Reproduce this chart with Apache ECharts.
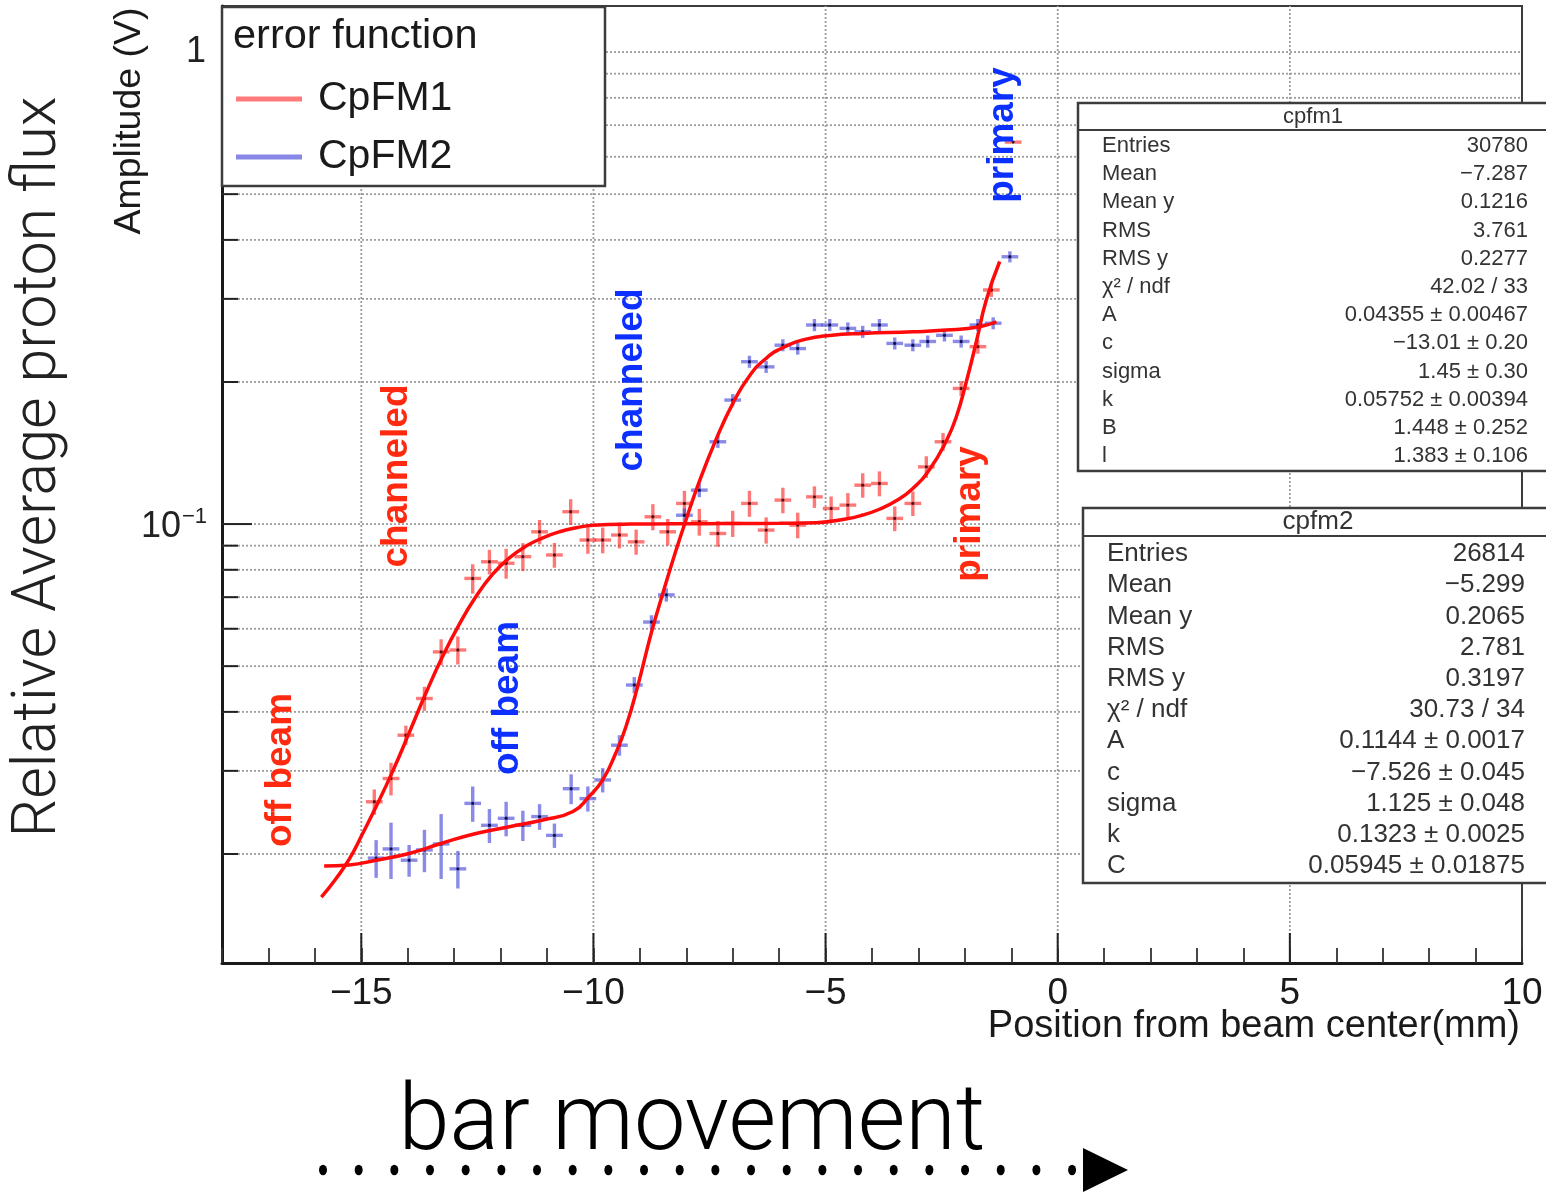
<!DOCTYPE html>
<html>
<head>
<meta charset="utf-8">
<script src="https://cdn.jsdelivr.net/npm/echarts@6/dist/echarts.min.js"></script>
<style>
  html, body { margin: 0; padding: 0; background: #ffffff; }
  #chart { width: 1546px; height: 1193px; }
</style>
</head>
<body>
<div id="chart"></div>
<script>
// ---- axis ranges and tick values ----
const X_MIN = -18, X_MAX = 10;
const Y_MIN = 0.01175, Y_MAX = 1.252;
const xMajorTicks = [-15, -10, -5, 0, 5];
const yGridValues = [0.02, 0.03, 0.04, 0.05, 0.06, 0.07, 0.08, 0.09, 0.1,
                     0.2, 0.3, 0.4, 0.5, 0.6, 0.7, 0.8, 0.9, 1];
const yMajorTicks = [0.1, 1];
const yLabelValues = [1, 0.1];
const yLabelBase = ['1', '10'];
const yLabelExp = ['', '\u22121'];

// ---- CpFM1 measurements (position mm, amplitude V, error V) ----
const cpfm1X = [-14.72, -14.36, -14.04, -13.64, -13.28, -12.92, -12.60, -12.24, -11.88, -11.52,
                -11.16, -10.84, -10.49, -10.12, -9.80, -9.44, -9.08, -8.72, -8.40, -8.04,
                -7.72, -7.32, -7.00, -6.64, -6.28, -5.92, -5.60, -5.24, -4.88, -4.52,
                -4.20, -3.84, -3.51, -3.12, -2.83, -2.47, -2.08, -1.72, -1.43, -0.96];
const cpfm1Y = [0.0258, 0.0289, 0.0357, 0.0427, 0.0536, 0.0541, 0.0767, 0.0832, 0.0826, 0.0853,
                0.0963, 0.0860, 0.1062, 0.0925, 0.0925, 0.0948, 0.0917, 0.1036, 0.0963, 0.1106,
                0.1011, 0.0955, 0.1003, 0.1106, 0.0971, 0.1124, 0.0995, 0.1142, 0.1079, 0.1097,
                0.1209, 0.1219, 0.1028, 0.1106, 0.1322, 0.1494, 0.1938, 0.2376, 0.3133, 0.6446];
const cpfm1Err = [0.0016, 0.0023, 0.0017, 0.0025, 0.0034, 0.0037, 0.0055, 0.0050, 0.0060, 0.0058,
                  0.0057, 0.0052, 0.0067, 0.0060, 0.0058, 0.0060, 0.0056, 0.0066, 0.0062, 0.0070,
                  0.0066, 0.0060, 0.0064, 0.0070, 0.0062, 0.0070, 0.0062, 0.0060, 0.0065, 0.0066,
                  0.0072, 0.0074, 0.0062, 0.0066, 0.0070, 0.0065, 0.0070, 0.0080, 0.0105, 0.0040];

// ---- CpFM2 measurements ----
const cpfm2X = [-14.68, -14.36, -13.97, -13.64, -13.28, -12.92, -12.60, -12.24, -11.88, -11.52,
                -11.16, -10.84, -10.48, -10.12, -9.80, -9.44, -9.12, -8.75, -8.43, -8.04,
                -7.72, -7.32, -7.00, -6.64, -6.28, -5.92, -5.60, -5.24, -4.91, -4.52,
                -4.20, -3.84, -3.51, -3.12, -2.80, -2.44, -2.08, -1.72, -1.39, -1.03];
const cpfm2Y = [0.0196, 0.0205, 0.0194, 0.0204, 0.0210, 0.0186, 0.0256, 0.0230, 0.0238, 0.0230,
                0.0240, 0.0219, 0.0275, 0.0262, 0.0287, 0.0340, 0.0456, 0.0620, 0.0708, 0.1044,
                0.1180, 0.1494, 0.1831, 0.2208, 0.2153, 0.2393, 0.2354, 0.2641, 0.2641, 0.2598,
                0.2555, 0.2641, 0.2414, 0.2393, 0.2437, 0.2511, 0.2437, 0.2641, 0.2664, 0.3684];
const cpfm2Err = [0.0018, 0.0028, 0.0015, 0.0021, 0.0033, 0.0017, 0.0022, 0.0019, 0.0020, 0.0017,
                  0.0015, 0.0013, 0.0020, 0.0016, 0.0017, 0.0017, 0.0018, 0.0021, 0.0023, 0.0035,
                  0.0040, 0.0044, 0.0054, 0.0065, 0.0063, 0.0070, 0.0069, 0.0078, 0.0078, 0.0076,
                  0.0075, 0.0078, 0.0071, 0.0070, 0.0072, 0.0074, 0.0072, 0.0078, 0.0078, 0.0100];

// half bin width of the scan step (mm)
const X_ERR = 0.18;

// ---- fitted error-function curves ----
const fit1X = [-15.86, -15.55, -15.26, -14.97, -14.68, -14.32, -13.97, -13.61, -13.25, -12.89,
               -12.53, -12.17, -11.81, -11.45, -11.09, -10.73, -10.37, -10.01, -9.20, -8.40,
               -7.60, -6.80, -6.00, -5.20, -4.57, -4.20, -3.84, -3.48, -3.12, -2.76,
               -2.40, -2.19, -1.97, -1.75, -1.54, -1.25];
const fit1Y = [0.0162, 0.0177, 0.0195, 0.0221, 0.0252, 0.0300, 0.0361, 0.0438, 0.0524, 0.0613,
               0.0702, 0.0783, 0.0848, 0.0898, 0.0935, 0.0963, 0.0982, 0.0994, 0.1000, 0.1001,
               0.1002, 0.1003, 0.1004, 0.1007, 0.1025, 0.1045, 0.1075, 0.1120, 0.1190, 0.1305,
               0.1500, 0.1680, 0.2000, 0.2440, 0.2980, 0.3600];
const fit2X = [-15.80, -15.26, -14.68, -13.97, -13.25, -12.53, -11.81, -11.09, -10.44, -10.09,
               -9.80, -9.52, -9.30, -9.05, -8.75, -8.50, -8.25, -8.00, -7.72, -7.36,
               -7.00, -6.64, -6.28, -5.92, -5.42, -4.91, -4.20, -3.12, -2.40, -1.68, -1.32];
const fit2Y = [0.01885, 0.01895, 0.0194, 0.02005, 0.0211, 0.0221, 0.02285, 0.0236, 0.0246, 0.0265,
               0.0287, 0.0327, 0.0372, 0.0452, 0.0590, 0.0716, 0.0862, 0.1025, 0.1230, 0.1510,
               0.1800, 0.2060, 0.2245, 0.2365, 0.2465, 0.2510, 0.2535, 0.2555, 0.2576, 0.2619, 0.2683];

// ---- statistics boxes ----
const stats1Labels = ['Entries', 'Mean', 'Mean y', 'RMS', 'RMS y', '\u03C7\u00B2 / ndf', 'A', 'c', 'sigma', 'k', 'B', 'l'];
const stats1Values = ['30780', '\u22127.287', '0.1216', '3.761', '0.2277', '42.02 / 33',
                      '0.04355 \u00B1 0.00467', '\u221213.01 \u00B1 0.20', '1.45 \u00B1 0.30',
                      '0.05752 \u00B1 0.00394', '1.448 \u00B1 0.252', '1.383 \u00B1 0.106'];
const stats2Labels = ['Entries', 'Mean', 'Mean y', 'RMS', 'RMS y', '\u03C7\u00B2 / ndf', 'A', 'c', 'sigma', 'k', 'C'];
const stats2Values = ['26814', '\u22125.299', '0.2065', '2.781', '0.3197', '30.73 / 34',
                      '0.1144 \u00B1 0.0017', '\u22127.526 \u00B1 0.045', '1.125 \u00B1 0.048',
                      '0.1323 \u00B1 0.0025', '0.05945 \u00B1 0.01875'];

const ROOT_FONT = '"Liberation Sans", Arial, Helvetica, sans-serif';
const SLIDE_FONT = 'Roboto, "Open Sans", "Liberation Sans", sans-serif';
const RED_TXT = '#ff2a10';
const BLUE_TXT = '#0b30ff';
const GRID_STYLE = { stroke: '#9c9c9c', lineWidth: 1.8, lineDash: [2, 2] };

function errorBarItem(stroke, dot) {
  return function (params, api) {
    const x = api.value(0), y = api.value(1), ey = api.value(2);
    const c = api.coord([x, y]);
    const top = api.coord([x, y + ey]);
    const bot = api.coord([x, y - ey]);
    const l = api.coord([x - X_ERR, y]);
    const r = api.coord([x + X_ERR, y]);
    const st = { stroke: stroke, lineWidth: 3.4, fill: null };
    return {
      type: 'group',
      children: [
        { type: 'line', shape: { x1: c[0], y1: top[1], x2: c[0], y2: bot[1] }, style: st },
        { type: 'line', shape: { x1: l[0], y1: c[1], x2: c[0] - 1.7, y2: c[1] }, style: st },
        { type: 'line', shape: { x1: c[0] + 1.7, y1: c[1], x2: r[0], y2: c[1] }, style: st },
        { type: 'circle', shape: { cx: c[0], cy: c[1], r: 1.7 }, style: { fill: dot } }
      ]
    };
  };
}

function xGridItem(params, api) {
  const x = api.value(0);
  const b = api.coord([x, Y_MIN]);
  const t = api.coord([x, Y_MAX]);
  return {
    type: 'group',
    children: [
      { type: 'line', shape: { x1: b[0], y1: b[1], x2: t[0], y2: t[1] }, style: GRID_STYLE },
      { type: 'line', shape: { x1: b[0], y1: b[1], x2: b[0], y2: b[1] - 30 },
        style: { stroke: '#222', lineWidth: 2 } }
    ]
  };
}

function yGridItem(params, api) {
  const v = api.value(1);
  const l = api.coord([X_MIN, v]);
  const r = api.coord([X_MAX, v]);
  const len = yMajorTicks.indexOf(v) >= 0 ? 30 : 16;
  return {
    type: 'group',
    children: [
      { type: 'line', shape: { x1: l[0], y1: l[1], x2: r[0], y2: r[1] }, style: GRID_STYLE },
      { type: 'line', shape: { x1: l[0], y1: l[1], x2: l[0] + len, y2: l[1] },
        style: { stroke: '#222', lineWidth: 2 } }
    ]
  };
}

function yLabelItem(params, api) {
  const i = params.dataIndex;
  const p = api.coord([X_MIN, api.value(1)]);
  const base = yLabelBase[i], exp = yLabelExp[i];
  const children = [];
  if (exp) {
    children.push({ type: 'text', x: p[0] - 41, y: p[1] + 3,
      style: { text: base, fontFamily: ROOT_FONT, fontSize: 36, fill: '#222', align: 'right', verticalAlign: 'middle' } });
    children.push({ type: 'text', x: p[0] - 40, y: p[1] - 7,
      style: { text: exp, fontFamily: ROOT_FONT, fontSize: 22, fill: '#222', align: 'left', verticalAlign: 'middle' } });
  } else {
    children.push({ type: 'text', x: p[0] - 16, y: p[1],
      style: { text: base, fontFamily: ROOT_FONT, fontSize: 36, fill: '#222', align: 'right', verticalAlign: 'middle' } });
  }
  return { type: 'group', children: children };
}

function statsBox(b, labels, values) {
  const els = [];
  els.push({ type: 'rect', z: 20, shape: { x: b.x, y: b.y, width: b.w, height: b.h },
             style: { fill: '#fff', stroke: '#3c3c3c', lineWidth: 2.5 } });
  els.push({ type: 'line', z: 21, shape: { x1: b.x, y1: b.sep, x2: b.x + b.w, y2: b.sep },
             style: { stroke: '#3c3c3c', lineWidth: 2 } });
  els.push({ type: 'text', z: 21, x: b.titleX, y: b.titleY,
             style: { text: b.title, fontFamily: ROOT_FONT, fontSize: b.fs, fill: '#333', align: 'center', verticalAlign: 'middle' } });
  labels.forEach(function (lab, i) {
    const y = b.row0 + i * b.step;
    els.push({ type: 'text', z: 21, x: b.labelX, y: y,
               style: { text: lab, fontFamily: ROOT_FONT, fontSize: b.fs, fill: '#333', align: 'left', verticalAlign: 'middle' } });
    els.push({ type: 'text', z: 21, x: b.valueX, y: y,
               style: { text: values[i], fontFamily: ROOT_FONT, fontSize: b.fs, fill: '#333', align: 'right', verticalAlign: 'middle' } });
  });
  return els;
}

function vText(text, x, y, color, size, font, weight) {
  return { type: 'text', z: 15, x: x, y: y, rotation: Math.PI / 2,
           style: { text: text, fill: color, fontSize: size, fontFamily: font, fontWeight: weight || 'normal',
                    align: 'center', verticalAlign: 'middle' } };
}

const graphics = [];
// legend frame and header
graphics.push({ type: 'rect', z: 20, shape: { x: 222, y: 7, width: 383, height: 179 },
                style: { fill: '#fff', stroke: '#3c3c3c', lineWidth: 2.5 } });
graphics.push({ type: 'text', z: 21, x: 233, y: 37,
                style: { text: 'error function', fontFamily: ROOT_FONT, fontSize: 41.5, fill: '#1a1a1a', align: 'left', verticalAlign: 'middle' } });
// statistics panels
statsBox({ x: 1078, y: 103, w: 480, h: 368, sep: 130, title: 'cpfm1', titleX: 1313, titleY: 117, fs: 22,
           row0: 146, step: 28.2, labelX: 1102, valueX: 1528 }, stats1Labels, stats1Values).forEach(e => graphics.push(e));
statsBox({ x: 1083, y: 508, w: 480, h: 375, sep: 536, title: 'cpfm2', titleX: 1318, titleY: 522, fs: 26,
           row0: 554, step: 31.2, labelX: 1107, valueX: 1525 }, stats2Labels, stats2Values).forEach(e => graphics.push(e));
// region annotations
graphics.push(vText('off beam', 281, 770, RED_TXT, 37, ROOT_FONT, 'bold'));
graphics.push(vText('channeled', 397, 476, RED_TXT, 37, ROOT_FONT, 'bold'));
graphics.push(vText('off beam', 508, 698, BLUE_TXT, 37, ROOT_FONT, 'bold'));
graphics.push(vText('channeled', 632, 380, BLUE_TXT, 37, ROOT_FONT, 'bold'));
graphics.push(vText('primary', 1003, 135, BLUE_TXT, 37, ROOT_FONT, 'bold'));
graphics.push(vText('primary', 970, 514, RED_TXT, 37, ROOT_FONT, 'bold'));
// axis titles
graphics.push(vText('Amplitude (V)', 130, 121, '#1a1a1a', 37.5, ROOT_FONT, 'normal'));
graphics.push({ type: 'text', z: 15, x: 1520, y: 1027,
                style: { text: 'Position from beam center(mm)', fontFamily: ROOT_FONT, fontSize: 38, fill: '#1a1a1a', align: 'right', verticalAlign: 'middle' } });
graphics.push(vText('Relative Average proton flux', 40, 467, '#222', 61, SLIDE_FONT, 300));
graphics.push({ type: 'text', z: 15, x: 692, y: 1126,
                style: { text: 'bar movement', fontFamily: SLIDE_FONT, fontWeight: 300, fontSize: 92, fill: '#000', align: 'center', verticalAlign: 'middle' } });
// dotted arrow under the caption
for (let i = 0; i < 22; i++) {
  graphics.push({ type: 'circle', z: 15, x: 323 + i * 35.67, y: 1170, scaleY: 1.3,
                  shape: { cx: 0, cy: 0, r: 4 }, style: { fill: '#000' } });
}
graphics.push({ type: 'polygon', z: 15, shape: { points: [[1083, 1148], [1128, 1170], [1083, 1192]] }, style: { fill: '#000' } });

const chart = echarts.init(document.getElementById('chart'), null, { renderer: 'canvas' });
chart.setOption({
  animation: false,
  backgroundColor: '#ffffff',
  grid: { left: 222, right: 24, top: 6, bottom: 230, show: true, borderColor: '#3c3c3c', borderWidth: 2, containLabel: false },
  xAxis: {
    type: 'value', min: X_MIN, max: X_MAX, interval: 1,
    axisLine: { show: true, onZero: false, lineStyle: { color: '#1a1a1a', width: 3 } },
    axisTick: { show: true, inside: true, length: 15, lineStyle: { color: '#333', width: 1.8 } },
    axisLabel: {
      margin: 12, fontFamily: ROOT_FONT, fontSize: 37, color: '#1a1a1a',
      formatter: function (v) { return v % 5 === 0 ? String(v).replace('-', '\u2212') : ''; }
    },
    splitLine: { show: false }
  },
  yAxis: {
    type: 'log', logBase: 10, min: Y_MIN, max: Y_MAX,
    axisLine: { show: true, onZero: false, lineStyle: { color: '#1a1a1a', width: 3 } },
    axisTick: { show: false }, axisLabel: { show: false }, splitLine: { show: false }
  },
  legend: {
    orient: 'vertical', left: 236, top: 78, padding: 0, itemWidth: 66, itemHeight: 5, itemGap: 16,
    icon: 'rect', selectedMode: false, z: 30,
    textStyle: { fontFamily: ROOT_FONT, fontSize: 41, lineHeight: 42, color: '#1a1a1a', padding: [0, 0, 0, 11] },
    data: [
      { name: 'CpFM1', itemStyle: { color: '#ff7a7a' } },
      { name: 'CpFM2', itemStyle: { color: '#8888e6' } }
    ]
  },
  graphic: { elements: graphics },
  series: [
    { name: 'xgrid', type: 'custom', z: 1, silent: true, renderItem: xGridItem,
      encode: { x: 0, y: 1 }, data: xMajorTicks.map(v => [v, Y_MIN]) },
    { name: 'ygrid', type: 'custom', z: 1, silent: true, renderItem: yGridItem,
      encode: { x: 0, y: 1 }, data: yGridValues.map(v => [X_MIN, v]) },
    { name: 'ylabels', type: 'custom', z: 1, silent: true, renderItem: yLabelItem,
      encode: { x: 0, y: 1 }, data: yLabelValues.map(v => [X_MIN, v]) },
    { name: 'CpFM1', type: 'custom', z: 3, itemStyle: { color: '#ff7a7a' },
      renderItem: errorBarItem('rgba(255,30,30,0.6)', '#5a1010'),
      encode: { x: 0, y: 1 }, data: cpfm1X.map((x, i) => [x, cpfm1Y[i], cpfm1Err[i]]) },
    { name: 'CpFM2', type: 'custom', z: 3, itemStyle: { color: '#8888e6' },
      renderItem: errorBarItem('rgba(60,60,215,0.6)', '#101050'),
      encode: { x: 0, y: 1 }, data: cpfm2X.map((x, i) => [x, cpfm2Y[i], cpfm2Err[i]]) },
    { name: 'fit CpFM1', type: 'line', z: 4, showSymbol: false, smooth: 0.5,
      lineStyle: { color: '#ff0a0a', width: 3.5 }, data: fit1X.map((x, i) => [x, fit1Y[i]]) },
    { name: 'fit CpFM2', type: 'line', z: 4, showSymbol: false, smooth: 0.5,
      lineStyle: { color: '#ff0a0a', width: 3.5 }, data: fit2X.map((x, i) => [x, fit2Y[i]]) }
  ]
});
</script>
</body>
</html>
